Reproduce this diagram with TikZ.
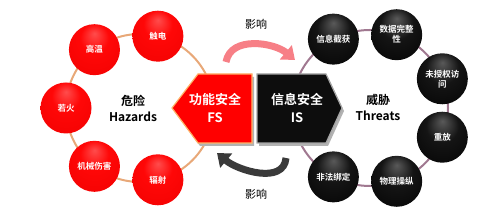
\documentclass[tikz,border=0pt]{standalone}
\usepackage{fontspec}
\setmainfont{Noto Sans CJK SC}
\newfontfamily\heavy{Noto Sans CJK SC Bold}
\usetikzlibrary{calc,arrows.meta}

\definecolor{hzring}{HTML}{E8A878}
\definecolor{thring}{HTML}{A07890}
\definecolor{infl}{HTML}{F77F86}
\definecolor{inflback}{HTML}{3A3A3A}

% glossy balls
\pgfdeclareradialshading{redball}{\pgfpoint{0bp}{16bp}}{%
  color(0bp)=(red!70!white); color(14bp)=(red!97!white); color(44bp)=(red!94!black); color(50bp)=(red!75!black)}
\pgfdeclareradialshading{blackball}{\pgfpoint{0bp}{16bp}}{%
  color(0bp)=(black!65); color(16bp)=(black!92); color(45bp)=(black); color(50bp)=(black!50)}

\tikzset{
  ball/.style={circle,minimum size=51pt,inner sep=1pt,text=white,font=\heavy\fontsize{8.5}{10}\selectfont,align=center},
  hzball/.style={ball,shading=redball},
  thball/.style={ball,shading=blackball},
  bigarrow/.style={line width=7pt,-{Triangle[width=18pt,length=12pt]}},
  ringlabel/.style={font=\heavy\fontsize{12}{14}\selectfont,align=center},
  blocklabel/.style={text=white,font=\heavy\fontsize{13}{15}\selectfont,align=center}
}

\begin{document}
\begin{tikzpicture}[x=1pt,y=1pt]
  \useasboundingbox (0,0) rectangle (500,221);

  \coordinate (hzc) at (140,113);
  \coordinate (thc) at (370,113);

  % rings (drawn first)
  \draw[hzring,line width=2pt] (hzc) circle (74);
  \draw[thring,line width=2pt] (thc) circle (78);

  % hazards
  \foreach \ang/\txt [count=\i] in {76/触电,128/高温,180/若火,-128/机械伤害,-76/辐射}{
    \node[hzball] (hz\i) at ($(hzc)+(\ang:74)$) {\txt};
  }

  % threats
  \foreach \ang/\txt [count=\i] in {118/信息截获,70/{数据完整\\性},22/{未授权访\\问},-22/重放,-70/物理操纵,-118/非法绑定}{
    \node[thball] (th\i) at ($(thc)+(\ang:78)$) {\txt};
  }

  % centre labels
  \node[ringlabel] (hzlab) at (133,113) {危险\\[2pt]Hazards};
  \node[ringlabel] (thlab) at (378,114) {威胁\\[2pt]Threats};

  % the two blocks
  \fill[gray!60] (174,110) -- (200,144) -- (254,144) -- (254,75) -- (200,75) -- cycle;
  \draw[fill=red,draw=orange!60,line width=1.2pt]
    (172,113) -- (198,147) -- (252,147) -- (252,78) -- (198,78) -- cycle;
  \fill[gray!60] (259,75) -- (328,75) -- (344,110) -- (328,144) -- (259,144) -- cycle;
  \draw[fill=black!95,draw=gray!70,line width=1.2pt]
    (257,147) -- (326,147) -- (342,113) -- (326,78) -- (257,78) -- cycle;
  \node[blocklabel] (fs) at (215,113) {功能安全\\[3pt]FS};
  \node[blocklabel] (is) at (297,113) {信息安全\\[3pt]IS};

  % influence arrows
  \coordinate (topa) at (226,159);
  \coordinate (topb) at (295,161);
  \coordinate (bota) at (286,63);
  \coordinate (botb) at (217,68);
  \draw[bigarrow,infl] (topa) to[out=80,in=140] (topb);
  \draw[bigarrow,inflback] (bota) to[out=-95,in=-40] (botb);
  \node[font=\fontsize{11}{13}\selectfont] (inftop) at (256,197) {影响};
  \node[font=\fontsize{11}{13}\selectfont] (infbot) at (256,27) {影响};

\end{tikzpicture}
\end{document}
